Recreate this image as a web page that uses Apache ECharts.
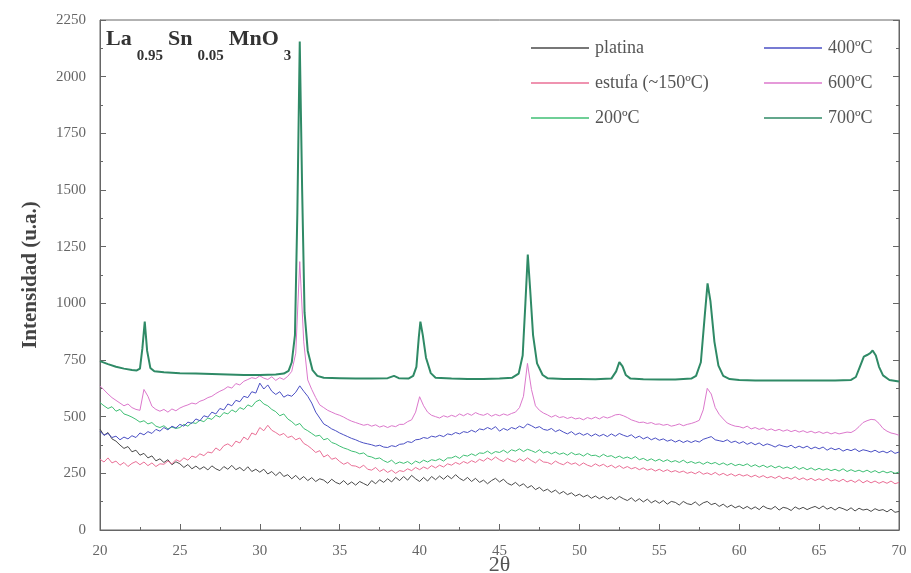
<!DOCTYPE html>
<html><head><meta charset="utf-8">
<script src="https://cdn.jsdelivr.net/npm/echarts@6/dist/echarts.min.js"></script>
<style>html,body{margin:0;padding:0;background:#fff}#c{width:911px;height:573px}</style>
</head><body><div id="c"></div>
<script>
// x grid for the noisy scans: 20° to 70° every 0.25°
const X_START = 20, X_STEP = 0.25;
const xTicks = [20,25,30,35,40,45,50,55,60,65,70];
const yTicks = [0,250,500,750,1000,1250,1500,1750,2000,2250];

const platina = [
445,418,430,402, 392,375,360,368, 345,352,330,338, 318,327,305,314, 298,310,288,301,
292,276,289,270, 282,268,279,265, 283,270,262,280, 268,285,266,276, 261,279,258,268,
255,268,247,258, 240,256,236,244, 226,241,222,236, 218,231,214,226, 220,206,224,210,
203,218,200,212, 198,214,205,196, 218,204,222,210, 226,212,232,218, 236,220,241,226,
214,232,216,236, 222,238,224,240, 226,244,228,218, 232,214,228,210, 220,204,218,228,
212,224,206,198, 210,194,204,186, 196,178,188,172, 180,166,176,160, 170,156,164,150,
158,146,154,140, 150,138,148,136, 146,134,148,138, 130,142,126,138, 124,136,120,130,
118,130,114,126, 122,110,126,116, 112,124,108,120, 126,112,118,104, 114,100,110,98,
106,94,104,92, 102,90,106,96, 92,104,88,100, 96,86,102,92, 100,90,98,104,
94,106,92,100, 88,100,94,86, 98,84,96,88, 92,82,94,86, 90,80,92,78, 82];

const estufa = [
312,300,318,296, 304,286,298,280, 294,302,288,300, 284,296,280,292, 290,304,292,310,
302,318,308,326, 320,336,328,344, 340,362,350,372, 380,368,392,384, 410,398,428,420,
452,438,462,440, 430,418,426,408, 414,398,406,382, 372,358,342,350, 322,332,312,318,
302,290,298,284, 282,274,286,268, 264,276,258,268, 254,264,250,262, 258,270,262,276,
266,278,270,284, 274,286,278,292, 286,298,290,302, 294,306,298,312, 304,318,308,322,
310,302,316,306, 300,314,304,318, 306,296,312,300, 298,290,304,294, 288,300,290,296,
284,296,286,280, 292,282,290,278, 286,274,284,272, 280,270,276,266, 274,264,270,260,
268,258,266,256, 262,254,260,250, 256,248,258,246, 252,244,254,242, 250,240,248,238,
246,238,244,234, 242,232,240,230, 236,228,238,226, 232,224,234,222, 230,220,228,218,
226,218,228,216, 222,214,224,212, 220,210,222,208, 218,208,216,206, 214,206,216,204, 210];

const c200 = [
562,548,536,544, 524,532,512,506, 498,488,476,482, 468,474,458,452, 460,446,454,448,
452,466,458,474, 470,484,478,494, 488,506,498,518, 512,530,520,540, 532,552,544,566,
574,556,548,532, 522,504,512,490, 478,462,470,448, 438,426,414,418, 398,404,386,380,
370,362,356,348, 344,336,340,326, 322,314,318,306, 298,308,292,300, 294,302,290,304,
296,308,300,310, 306,314,304,318, 318,326,316,330, 326,336,328,340, 338,348,336,346,
342,352,340,354, 348,358,346,356, 350,342,354,340, 346,336,344,334, 340,330,342,332,
336,326,338,328, 330,322,334,324, 328,318,326,316, 322,314,324,310, 316,306,314,304,
312,302,310,300, 306,298,308,296, 302,294,300,290, 300,292,298,288, 296,286,294,284,
290,284,292,280, 288,278,286,276, 284,274,282,272, 278,270,280,268, 276,266,274,264,
272,264,270,262, 268,260,270,258, 266,258,264,256, 264,254,262,252, 260,252,258,250, 256];

const c400 = [
436,418,426,408, 414,398,410,402, 416,408,428,420, 434,426,444,436, 452,442,458,450,
466,458,476,470, 490,482,504,498, 520,512,536,530, 556,548,572,566, 590,584,610,604,
648,622,640,612, 598,610,586,596, 590,608,636,612, 590,560,520,494, 468,458,446,438,
428,420,412,404, 398,390,384,380, 376,370,374,366, 364,372,368,378, 380,390,386,398,
400,408,404,414, 410,418,412,424, 420,430,424,434, 430,440,432,446, 442,452,444,456,
436,448,440,452, 446,458,450,468, 460,450,456,444, 440,448,434,442, 432,424,434,420,
428,418,426,414, 424,414,422,412, 424,414,426,418, 412,420,406,414, 402,410,398,406,
396,402,392,398, 388,396,386,394, 386,394,388,400, 406,412,398,394, 390,398,386,392,
382,390,378,386, 376,384,372,380, 374,366,376,370, 366,374,362,370, 362,370,358,366,
358,366,352,362, 354,360,348,356, 350,358,346,354, 350,344,352,342, 348,340,350,338, 344];

const c600 = [
636,618,600,584, 572,560,548,556, 540,532,528,620, 590,546,532,524, 532,520,534,526,
538,546,552,560, 556,568,574,584, 590,602,612,620, 632,626,646,640, 656,664,672,668,
680,670,664,676, 660,672,664,678, 700,780,1184,830, 662,620,584,552, 540,528,520,512,
506,498,488,480, 474,468,462,466, 458,464,454,460, 452,460,456,466, 466,478,486,520,
588,548,520,506, 500,494,504,498, 506,500,512,504, 514,506,518,510, 506,514,502,510,
504,512,506,514, 520,540,590,735, 620,548,528,516, 508,498,506,496, 500,492,498,490,
494,486,496,490, 498,490,500,494, 500,508,510,504, 496,486,480,474, 476,470,474,466,
468,462,466,458, 462,468,460,466, 470,476,484,530, 625,600,540,510, 490,472,464,458,
456,450,458,446, 452,444,450,440, 446,438,444,436, 442,434,440,432, 438,430,436,428,
434,426,432,424, 430,424,428,432, 430,440,456,474, 482,488,486,470, 448,436,428,424, 418];

// 700 °C scan, read as [2θ, intensity] pairs (denser around the peaks)
const c700 = [
[20,745],[20.5,732],[21,720],[21.5,712],[22,706],[22.3,704],[22.5,712],[22.65,800],[22.8,919],
[22.95,790],[23.15,715],[23.4,700],[24,696],[25,692],[26,690],[27,688],[28,686],[29,684],[30,684],
[31,686],[31.5,690],[31.8,702],[32.0,740],[32.2,860],[32.35,1400],[32.5,2155],[32.65,1500],
[32.8,960],[33.0,790],[33.3,705],[33.6,680],[34,672],[35,670],[36,668],[37,668],[38,670],
[38.4,680],[38.7,670],[39.3,668],[39.6,680],[39.8,720],[39.95,850],[40.05,919],[40.2,860],
[40.4,760],[40.7,692],[41,672],[42,668],[43,666],[44,666],[45,668],[45.8,672],[46.2,690],
[46.45,770],[46.62,1000],[46.77,1215],[46.92,1060],[47.1,860],[47.35,735],[47.7,684],[48,670],
[49,666],[50,666],[51,665],[52,668],[52.3,700],[52.5,741],[52.7,722],[52.9,684],[53.2,668],
[54,665],[55,664],[56,664],[57,668],[57.3,680],[57.6,740],[57.85,950],[58.02,1088],[58.2,1010],
[58.45,830],[58.7,725],[59,680],[59.4,666],[60,662],[61,660],[62,660],[63,660],[64,660],
[65,660],[66,660],[67,662],[67.3,675],[67.55,720],[67.8,765],[68.0,772],[68.2,780],[68.35,792],
[68.55,770],[68.75,720],[69,682],[69.4,662],[70,655]];

const names = ['platina','estufa (~150ºC)','200ºC','400ºC','600ºC','700ºC'];
const colors = ['#4a4a4a','#ea6f96','#3fbf74','#4a4fc4','#dc78cc','#2f8a66'];

function pairs(vals){ return vals.map((v,i)=>[X_START + i*X_STEP, v]); }

const serif = 'Liberation Serif';
const chart = echarts.init(document.getElementById('c'));
const seriesData = [pairs(platina), pairs(estufa), pairs(c200), pairs(c400), pairs(c600), c700];
const series = seriesData.map((d,i)=>({
  name: names[i], type:'line', data:d, symbol:'none', animation:false,
  xAxisIndex:0, yAxisIndex:0,
  lineStyle:{color:colors[i], width: i===5 ? 2 : 1},
  itemStyle:{color:colors[i]}, z: i===5 ? 3 : 2
}));

const axisCommon = {
  axisLine:{show:true, lineStyle:{color:'#666', width:1}},
  axisTick:{show:true, inside:true, length:6, lineStyle:{color:'#666'}},
  minorTick:{show:true, splitNumber:2, length:3, lineStyle:{color:'#666'}},
  splitLine:{show:false}
};
const plain = v => String(v);

function legendData(list){
  return list.map(n => ({name:n, icon:'rect',
    itemStyle:{color: colors[names.indexOf(n)]}}));
}

chart.setOption({
  backgroundColor:'#fff',
  animation:false,
  grid:{left:100, right:12, top:20, bottom:43, show:true, borderColor:'#666', borderWidth:1,
        containLabel:false, outerBoundsMode:'none'},
  legend:[
    {data:legendData(names.slice(0,3)), orient:'vertical', left:526, top:34, itemWidth:58, itemHeight:1.5, itemGap:17,
     textStyle:{fontFamily:serif, fontSize:18, color:'#555', padding:[0,0,0,1]}},
    {data:legendData(names.slice(3)), orient:'vertical', left:759, top:34, itemWidth:58, itemHeight:1.5, itemGap:17,
     textStyle:{fontFamily:serif, fontSize:18, color:'#555', padding:[0,0,0,1]}}
  ],
  xAxis:[
    Object.assign({type:'value', min:xTicks[0], max:xTicks[xTicks.length-1], interval:5,
      name:'2θ', nameLocation:'middle', nameGap:24, nameMoveOverlap:false,
      nameTextStyle:{fontFamily:serif, fontSize:22, color:'#555'},
      axisLabel:{fontFamily:serif, fontSize:15, color:'#666', margin:14, formatter:plain}}, axisCommon),
  ],
  yAxis:[
    Object.assign({type:'value', min:yTicks[0], max:yTicks[yTicks.length-1], interval:250,
      name:'Intensidad (u.a.)', nameLocation:'middle', nameGap:59, nameMoveOverlap:false,
      nameTextStyle:{fontFamily:serif, fontSize:21, fontWeight:'bold', color:'#444'},
      axisLabel:{fontFamily:serif, fontSize:15, color:'#666', margin:14, formatter:plain}}, axisCommon),
    Object.assign({type:'value', position:'right', min:yTicks[0], max:yTicks[yTicks.length-1], interval:250,
      axisLabel:{show:false}}, axisCommon)
  ],
  graphic:[{
    type:'text', left:106, top:28, z:10,
    style:{
      text:'{b|La}{s|0.95}{b|Sn}{s|0.05}{b|MnO}{s|3}',
      rich:{
        b:{fontFamily:serif, fontWeight:'bold', fontSize:22, fill:'#333', lineHeight:24, verticalAlign:'top'},
        s:{fontFamily:serif, fontWeight:'bold', fontSize:15, fill:'#333', lineHeight:24, padding:[21,5,0,5], verticalAlign:'top'}
      }
    }
  }],
  series: series
});
</script></body></html>
